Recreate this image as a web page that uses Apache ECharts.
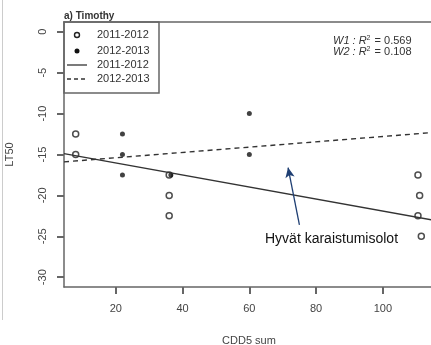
<!DOCTYPE html>
<html><head><meta charset="utf-8">
<script src="https://cdn.jsdelivr.net/npm/echarts@6/dist/echarts.min.js"></script>
<style>html,body{margin:0;padding:0;background:#fff}#c{width:431px;height:345px}</style>
</head><body><div id="c"></div>
<script>
// 2011-2012 (open circles)
const x1112 = [8, 8, 36, 36, 36, 110.5, 111, 110.5, 111.5];
const y1112 = [-12.5, -15, -17.5, -20, -22.5, -17.5, -20, -22.5, -25];
// 2012-2013 (filled points)
const x1213 = [22, 22, 22, 36.5, 60, 60];
const y1213 = [-12.5, -15, -17.5, -17.5, -10, -15];
// fitted lines (endpoints)
const lineX = [4.5, 115.3];
const fit1112 = [-14.9, -23.05];
const fit1213 = [-15.9, -12.3];
const xTicks = [20, 40, 60, 80, 100];
const yTicks = [-30, -25, -20, -15, -10, -5, 0];
const arrowFrom = [75, -23.6];
const arrowTo = [71.6, -16.6];

const chart = echarts.init(document.getElementById('c'));
const axisGray = '#666';
const font = 'Liberation Sans, Arial, sans-serif';
chart.setOption({
  animation: false,
  grid: {left: 64, top: 22, width: 370, height: 265, outerBoundsMode: 'none'},
  xAxis: [{
    type: 'value', min: 4.5, max: 115.3,
    axisLine: {show: true, onZero: false, lineStyle: {color: axisGray, width: 1.5}},
    splitLine: {show: false},
    axisTick: {show: true, customValues: xTicks, length: 7, lineStyle: {color: axisGray, width: 2}},
    axisLabel: {customValues: xTicks, color: '#444', fontFamily: font, fontSize: 11, margin: 16},
    name: 'CDD5 sum', nameLocation: 'middle', nameGap: 48,
    nameTextStyle: {color: '#444', fontFamily: font, fontSize: 11}
  }, {
    type: 'value', position: 'top', min: 4.5, max: 115.3,
    axisLine: {show: true, onZero: false, lineStyle: {color: axisGray, width: 1.5}},
    splitLine: {show: false}, axisTick: {show: false}, axisLabel: {show: false}
  }],
  yAxis: {
    type: 'value', min: -31.2, max: 1.2,
    axisLine: {show: true, onZero: false, lineStyle: {color: axisGray, width: 1.5}},
    splitLine: {show: false},
    axisTick: {show: true, customValues: yTicks, length: 7, lineStyle: {color: axisGray, width: 2}},
    axisLabel: {customValues: yTicks, rotate: 90, color: '#444', fontFamily: font, fontSize: 11, margin: 16},
    name: 'LT50', nameLocation: 'middle', nameGap: 49, nameRotate: 90,
    nameTextStyle: {color: '#444', fontFamily: font, fontSize: 11}
  },
  series: [
    {type: 'line', data: lineX.map((x, i) => [x, fit1112[i]]), symbol: 'none', lineStyle: {color: '#333', width: 1.4}},
    {type: 'line', data: lineX.map((x, i) => [x, fit1213[i]]), symbol: 'none', lineStyle: {color: '#333', width: 1.4, type: [5, 4]}},
    {type: 'scatter', data: x1112.map((x, i) => [x, y1112[i]]), symbol: 'circle', symbolSize: 6,
      itemStyle: {color: '#fff', borderColor: '#222', borderWidth: 1.5}},
    {type: 'scatter', data: x1213.map((x, i) => [x, y1213[i]]), symbol: 'circle', symbolSize: 5,
      itemStyle: {color: '#111'}},
    {type: 'line', data: [], markLine: {
      silent: true, symbol: ['none', 'arrow'], symbolSize: [7, 10],
      lineStyle: {color: '#1f3f73', width: 1.3, type: 'solid'},
      label: {show: false},
      data: [[{coord: arrowFrom}, {coord: arrowTo}]]
    }}
  ],
  graphic: [
    {type: 'line', shape: {x1: 2.5, y1: 0, x2: 2.5, y2: 320}, style: {stroke: '#ccc', lineWidth: 1}},
    {type: 'text', left: 64, top: 11, style: {text: 'a) Timothy', font: 'bold 10px ' + font, fill: '#333'}},
    {type: 'rect', shape: {x: 64, y: 22, width: 95, height: 71}, style: {fill: '#fff', stroke: axisGray, lineWidth: 1.5}},
    {type: 'circle', shape: {cx: 77, cy: 35, r: 2.5}, style: {fill: '#fff', stroke: '#222', lineWidth: 1.4}},
    {type: 'circle', shape: {cx: 77, cy: 51, r: 2.5}, style: {fill: '#111'}},
    {type: 'line', shape: {x1: 67, y1: 65, x2: 87, y2: 65}, style: {stroke: '#333', lineWidth: 1.3}},
    {type: 'line', shape: {x1: 67, y1: 79, x2: 88, y2: 79}, style: {stroke: '#333', lineWidth: 1.3, lineDash: [4, 3]}},
    {type: 'text', x: 97, y: 35, style: {text: '2011-2012', font: '11px ' + font, fill: '#333', verticalAlign: 'middle'}},
    {type: 'text', x: 97, y: 51, style: {text: '2012-2013', font: '11px ' + font, fill: '#333', verticalAlign: 'middle'}},
    {type: 'text', x: 97, y: 65, style: {text: '2011-2012', font: '11px ' + font, fill: '#333', verticalAlign: 'middle'}},
    {type: 'text', x: 97, y: 79, style: {text: '2012-2013', font: '11px ' + font, fill: '#333', verticalAlign: 'middle'}},
    {type: 'text', x: 333, y: 35, style: {
      text: '{i|W1 : R}{s|2}{n| = 0.569}\n{i|W2 : R}{s|2}{n| = 0.108}',
      font: '11px ' + font, fill: '#333', lineHeight: 11,
      rich: {
        i: {fontStyle: 'italic', fontSize: 11, fontFamily: font, fill: '#333', lineHeight: 11},
        s: {fontSize: 7, fontFamily: font, fill: '#333', verticalAlign: 'top', lineHeight: 11, padding: [0, 1, 6, 0]},
        n: {fontSize: 11, fontFamily: font, fill: '#333', lineHeight: 11}
      }
    }},
    {type: 'text', x: 265, y: 239, style: {text: 'Hyvät karaistumisolot', font: '14px ' + font, fill: '#111', verticalAlign: 'middle'}}
  ]
});
</script></body></html>
